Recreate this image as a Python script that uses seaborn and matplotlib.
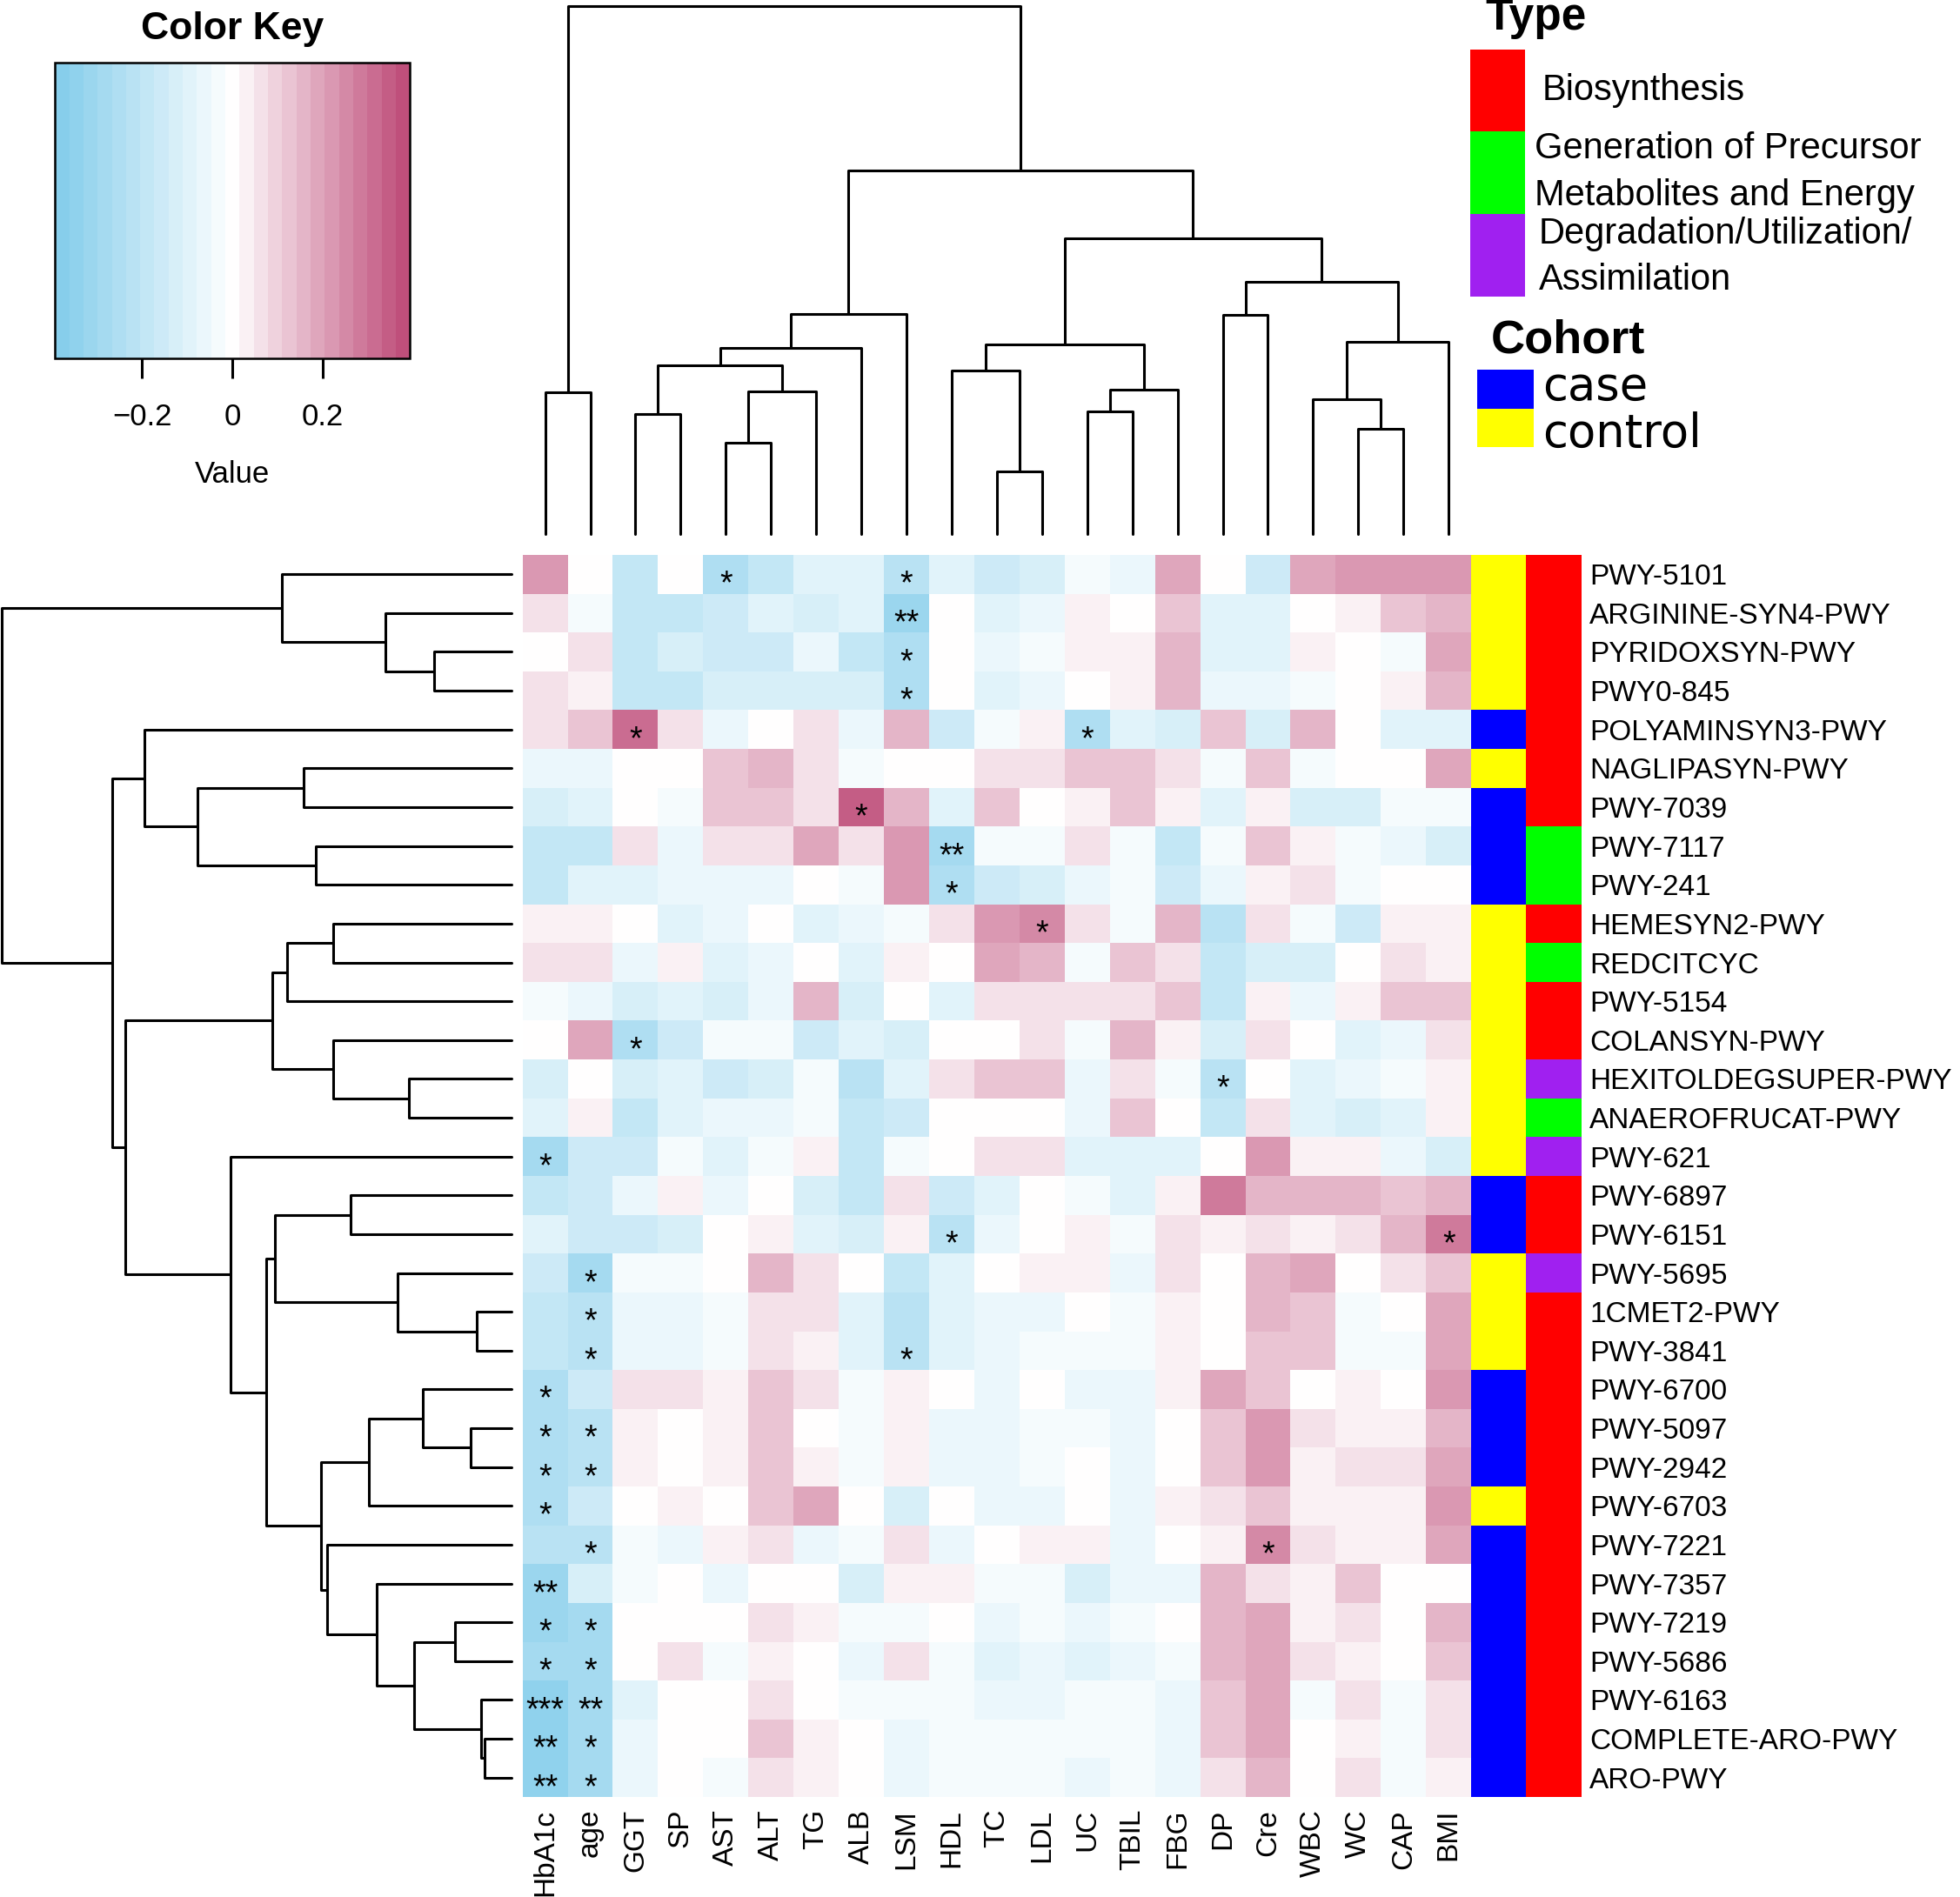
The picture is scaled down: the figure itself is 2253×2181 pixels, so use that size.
import numpy as np
import pandas as pd
import matplotlib
matplotlib.use("Agg")
import matplotlib.pyplot as plt
from matplotlib.colors import ListedColormap, LinearSegmentedColormap
from matplotlib.patches import Rectangle
import seaborn as sns

sns.set_style("white")
plt.rcParams['font.family'] = ['Liberation Sans', 'DejaVu Sans']
plt.rcParams['text.color'] = 'black'
plt.rcParams['axes.labelcolor'] = 'black'
plt.rcParams['xtick.color'] = 'black'
plt.rcParams['ytick.color'] = 'black'

# ---------------- data ----------------
row_names = ["PWY-5101", "ARGININE-SYN4-PWY", "PYRIDOXSYN-PWY", "PWY0-845",
             "POLYAMINSYN3-PWY", "NAGLIPASYN-PWY", "PWY-7039", "PWY-7117", "PWY-241",
             "HEMESYN2-PWY", "REDCITCYC", "PWY-5154", "COLANSYN-PWY",
             "HEXITOLDEGSUPER-PWY", "ANAEROFRUCAT-PWY", "PWY-621", "PWY-6897",
             "PWY-6151", "PWY-5695", "1CMET2-PWY", "PWY-3841", "PWY-6700", "PWY-5097",
             "PWY-2942", "PWY-6703", "PWY-7221", "PWY-7357", "PWY-7219", "PWY-5686",
             "PWY-6163", "COMPLETE-ARO-PWY", "ARO-PWY"]

col_names = ["HbA1c", "age", "GGT", "SP", "AST", "ALT", "TG", "ALB", "LSM", "HDL", "TC",
             "LDL", "UC", "TBIL", "FBG", "DP", "Cre", "WBC", "WC", "CAP", "BMI"]

# correlation values, one list per pathway (columns in col_names order)
corr = [
    [0.21, 0, -0.18, 0, -0.255, -0.18, -0.1, -0.09, -0.225, -0.1, -0.155, -0.13, -0.03, -0.065, 0.185, 0, -0.155, 0.185, 0.22, 0.22, 0.22],
    [0.075, -0.03, -0.18, -0.18, -0.155, -0.1, -0.13, -0.1, -0.3, 0, -0.1, -0.065, 0.04, 0, 0.115, -0.1, -0.1, 0, 0.04, 0.115, 0.15],
    [0, 0.075, -0.18, -0.13, -0.155, -0.155, -0.05, -0.19, -0.255, 0, -0.065, -0.03, 0.04, 0.04, 0.15, -0.1, -0.1, 0.04, 0, -0.03, 0.185],
    [0.075, 0.04, -0.18, -0.19, -0.13, -0.13, -0.13, -0.14, -0.255, 0, -0.1, -0.065, 0, 0.04, 0.15, -0.065, -0.065, -0.03, 0, 0.04, 0.15],
    [0.075, 0.115, 0.3, 0.075, -0.05, 0, 0.075, -0.05, 0.15, -0.155, -0.03, 0.04, -0.255, -0.1, -0.13, 0.115, -0.13, 0.15, 0, -0.1, -0.1],
    [-0.05, -0.05, 0, 0, 0.115, 0.15, 0.075, -0.03, 0, 0, 0.075, 0.075, 0.115, 0.115, 0.075, -0.03, 0.115, -0.03, 0, 0, 0.185],
    [-0.13, -0.1, 0, -0.03, 0.115, 0.115, 0.075, 0.34, 0.15, -0.1, 0.115, 0, 0.04, 0.115, 0.04, -0.1, 0.04, -0.13, -0.13, -0.03, -0.03],
    [-0.18, -0.18, 0.075, -0.05, 0.075, 0.075, 0.185, 0.075, 0.22, -0.28, -0.03, -0.03, 0.075, -0.03, -0.18, -0.03, 0.115, 0.04, -0.03, -0.065, -0.13],
    [-0.18, -0.1, -0.09, -0.05, -0.05, -0.05, 0, -0.03, 0.22, -0.255, -0.155, -0.13, -0.065, -0.03, -0.155, -0.05, 0.04, 0.075, -0.03, 0, 0],
    [0.04, 0.04, 0, -0.1, -0.05, 0, -0.1, -0.05, -0.03, 0.075, 0.22, 0.26, 0.075, -0.03, 0.15, -0.225, 0.075, -0.03, -0.155, 0.04, 0.04],
    [0.075, 0.075, -0.05, 0.04, -0.1, -0.05, 0, -0.09, 0.04, 0, 0.2, 0.15, -0.03, 0.115, 0.075, -0.19, -0.13, -0.13, 0, 0.075, 0.04],
    [-0.03, -0.05, -0.13, -0.1, -0.13, -0.05, 0.15, -0.13, 0, -0.1, 0.075, 0.075, 0.075, 0.075, 0.115, -0.19, 0.04, -0.065, 0.04, 0.115, 0.115],
    [0, 0.185, -0.255, -0.155, -0.03, -0.03, -0.155, -0.1, -0.13, 0, 0, 0.075, -0.03, 0.15, 0.04, -0.13, 0.075, 0, -0.1, -0.065, 0.075],
    [-0.13, 0, -0.13, -0.1, -0.155, -0.13, -0.03, -0.225, -0.1, 0.075, 0.115, 0.115, -0.065, 0.075, -0.03, -0.225, 0, -0.1, -0.065, -0.03, 0.04],
    [-0.1, 0.04, -0.18, -0.1, -0.05, -0.05, -0.03, -0.19, -0.155, 0, 0, 0, -0.065, 0.115, 0, -0.19, 0.075, -0.1, -0.13, -0.1, 0.04],
    [-0.28, -0.155, -0.155, -0.03, -0.1, -0.03, 0.04, -0.19, -0.03, 0, 0.075, 0.075, -0.1, -0.1, -0.1, 0, 0.22, 0.04, 0.04, -0.065, -0.13],
    [-0.18, -0.155, -0.05, 0.04, -0.05, 0, -0.13, -0.19, 0.075, -0.155, -0.1, 0, -0.03, -0.1, 0.04, 0.27, 0.15, 0.15, 0.15, 0.115, 0.15],
    [-0.1, -0.155, -0.155, -0.13, 0, 0.04, -0.1, -0.13, 0.04, -0.225, -0.065, 0, 0.04, -0.03, 0.075, 0.04, 0.075, 0.04, 0.075, 0.15, 0.27],
    [-0.155, -0.28, -0.03, -0.03, 0, 0.15, 0.075, 0, -0.19, -0.1, 0, 0.04, 0.04, -0.065, 0.075, 0, 0.15, 0.185, 0, 0.075, 0.115],
    [-0.18, -0.225, -0.05, -0.05, -0.03, 0.075, 0.075, -0.1, -0.225, -0.09, -0.065, -0.065, 0, -0.03, 0.04, 0, 0.15, 0.115, -0.03, 0, 0.185],
    [-0.18, -0.225, -0.05, -0.05, -0.03, 0.075, 0.04, -0.1, -0.225, -0.09, -0.065, -0.03, -0.03, -0.03, 0.04, 0, 0.115, 0.115, -0.03, -0.03, 0.185],
    [-0.255, -0.155, 0.075, 0.075, 0.04, 0.115, 0.075, -0.03, 0.04, 0, -0.065, 0, -0.065, -0.065, 0.04, 0.185, 0.115, 0, 0.04, 0, 0.22],
    [-0.255, -0.225, 0.04, 0, 0.04, 0.115, 0, -0.03, 0.04, -0.05, -0.05, -0.03, -0.03, -0.05, 0, 0.115, 0.22, 0.075, 0.04, 0.04, 0.15],
    [-0.255, -0.225, 0.04, 0, 0.04, 0.115, 0.04, -0.03, 0.04, -0.05, -0.05, -0.03, 0, -0.05, 0, 0.115, 0.22, 0.04, 0.075, 0.075, 0.185],
    [-0.255, -0.155, 0, 0.04, 0, 0.115, 0.185, 0, -0.13, 0, -0.065, -0.065, 0, -0.065, 0.04, 0.075, 0.115, 0.04, 0.04, 0.04, 0.22],
    [-0.225, -0.225, -0.03, -0.05, 0.04, 0.075, -0.05, -0.03, 0.075, -0.05, 0, 0.04, 0.04, -0.065, 0, 0.04, 0.26, 0.075, 0.04, 0.04, 0.185],
    [-0.3, -0.13, -0.03, 0, -0.05, 0, 0, -0.13, 0.04, 0.04, -0.03, -0.03, -0.13, -0.065, -0.065, 0.15, 0.075, 0.04, 0.115, 0, 0],
    [-0.3, -0.28, 0, 0, 0, 0.075, 0.04, -0.03, -0.03, 0, -0.05, -0.03, -0.065, -0.03, 0, 0.15, 0.185, 0.04, 0.075, 0, 0.15],
    [-0.28, -0.28, 0, 0.075, -0.03, 0.04, 0, -0.05, 0.075, -0.03, -0.09, -0.065, -0.1, -0.065, -0.03, 0.15, 0.185, 0.075, 0.04, 0, 0.115],
    [-0.36, -0.28, -0.1, 0, 0, 0.075, 0, -0.03, -0.03, -0.03, -0.05, -0.05, -0.03, -0.03, -0.05, 0.115, 0.185, -0.03, 0.075, -0.03, 0.075],
    [-0.34, -0.28, -0.05, 0, 0, 0.115, 0.04, 0, -0.05, -0.03, -0.03, -0.03, -0.03, -0.03, -0.05, 0.115, 0.185, 0, 0.04, -0.03, 0.075],
    [-0.34, -0.28, -0.05, 0, -0.03, 0.075, 0.04, 0, -0.05, -0.03, -0.03, -0.03, -0.065, -0.03, -0.05, 0.075, 0.15, 0, 0.075, -0.03, 0.04],
]

# significance marks (pathway, variable, stars)
stars = [
    ("PWY-5101", "AST", "*"), ("PWY-5101", "LSM", "*"),
    ("ARGININE-SYN4-PWY", "LSM", "**"),
    ("PYRIDOXSYN-PWY", "LSM", "*"),
    ("PWY0-845", "LSM", "*"),
    ("POLYAMINSYN3-PWY", "GGT", "*"), ("POLYAMINSYN3-PWY", "UC", "*"),
    ("PWY-7039", "ALB", "*"),
    ("PWY-7117", "HDL", "**"),
    ("PWY-241", "HDL", "*"),
    ("HEMESYN2-PWY", "LDL", "*"),
    ("COLANSYN-PWY", "GGT", "*"),
    ("HEXITOLDEGSUPER-PWY", "DP", "*"),
    ("PWY-621", "HbA1c", "*"),
    ("PWY-6151", "HDL", "*"), ("PWY-6151", "BMI", "*"),
    ("PWY-5695", "age", "*"),
    ("1CMET2-PWY", "age", "*"),
    ("PWY-3841", "age", "*"), ("PWY-3841", "LSM", "*"),
    ("PWY-6700", "HbA1c", "*"),
    ("PWY-5097", "HbA1c", "*"), ("PWY-5097", "age", "*"),
    ("PWY-2942", "HbA1c", "*"), ("PWY-2942", "age", "*"),
    ("PWY-6703", "HbA1c", "*"),
    ("PWY-7221", "age", "*"), ("PWY-7221", "Cre", "*"),
    ("PWY-7357", "HbA1c", "**"),
    ("PWY-7219", "HbA1c", "*"), ("PWY-7219", "age", "*"),
    ("PWY-5686", "HbA1c", "*"), ("PWY-5686", "age", "*"),
    ("PWY-6163", "HbA1c", "***"), ("PWY-6163", "age", "**"),
    ("COMPLETE-ARO-PWY", "HbA1c", "**"), ("COMPLETE-ARO-PWY", "age", "*"),
    ("ARO-PWY", "HbA1c", "**"), ("ARO-PWY", "age", "*"),
]

cohort = ["control", "control", "control", "control", "case", "control", "case", "case",
          "case", "control", "control", "control", "control", "control", "control",
          "control", "case", "case", "control", "control", "control", "case", "case",
          "case", "control", "case", "case", "case", "case", "case", "case", "case"]

pwy_type = ["Bio", "Bio", "Bio", "Bio", "Bio", "Bio", "Bio", "Gen", "Gen", "Bio", "Gen",
            "Bio", "Bio", "Deg", "Gen", "Deg", "Bio", "Bio", "Deg", "Bio", "Bio", "Bio",
            "Bio", "Bio", "Bio", "Bio", "Bio", "Bio", "Bio", "Bio", "Bio", "Bio"]

# dendrograms: (child a, child b, height); leaves are 0..n-1, merge k gets id n+k
col_merges = [(10, 11, 0.177), (4, 5, 0.257), (18, 19, 0.297), (2, 3, 0.338),
              (12, 13, 0.345), (17, 23, 0.380), (0, 1, 0.400), (22, 6, 0.402),
              (25, 14, 0.408), (9, 21, 0.462), (24, 28, 0.477), (31, 7, 0.524),
              (30, 29, 0.535), (26, 20, 0.541), (15, 16, 0.618), (32, 8, 0.621),
              (35, 34, 0.710), (33, 37, 0.834), (36, 38, 1.024), (27, 39, 1.487)]

row_merges = [(30, 31, 0.077), (29, 32, 0.089), (19, 20, 0.101), (22, 23, 0.117),
              (27, 28, 0.164), (2, 3, 0.225), (21, 35, 0.258), (36, 33, 0.282),
              (13, 14, 0.299), (18, 34, 0.330), (1, 37, 0.365), (26, 39, 0.392),
              (38, 24, 0.415), (16, 17, 0.467), (9, 10, 0.517), (12, 40, 0.519),
              (25, 43, 0.535), (44, 48, 0.554), (7, 8, 0.568), (5, 6, 0.604),
              (46, 11, 0.651), (0, 42, 0.667), (45, 41, 0.687), (52, 47, 0.695),
              (54, 49, 0.712), (15, 56, 0.817), (51, 50, 0.912), (4, 58, 1.067),
              (55, 57, 1.122), (59, 60, 1.161), (53, 61, 1.482)]

cohort_colors = {"case": "#0000FF", "control": "#FFFF00"}
type_colors = {"Bio": "#FF0000", "Gen": "#00FF00", "Deg": "#A020F0"}

# ---------------- figure ----------------
W, H = 1568.0, 1518.0   # layout grid in reference units


def box(x0, y0, x1, y1):
    return [x0 / W, 1 - y1 / H, (x1 - x0) / W, (y1 - y0) / H]


def draw_dendrogram(ax, merges, n, side):
    pos = {i: (i + 0.5, 0.0) for i in range(n)}
    for k, (a, b, h) in enumerate(merges):
        (pa, ha), (pb, hb) = pos[a], pos[b]
        leaf = [pa, pa, pb, pb]
        hgt = [ha, h, h, hb]
        if side == "top":
            ax.plot(leaf, hgt, color="black", lw=2.2, clip_on=False)
        else:
            ax.plot(hgt, leaf, color="black", lw=2.2, clip_on=False)
        pos[n + k] = ((pa + pb) / 2, h)
    return merges[-1][2]


fig = plt.figure(figsize=(22.53, 21.81), dpi=100)

# heatmap
df = pd.DataFrame(corr, index=row_names, columns=col_names)
base = LinearSegmentedColormap.from_list("key", ["#87CEEB", "#FFFFFF", "#BF4F7B"])
cmap = ListedColormap(base(np.linspace(0, 1, 25)))
vlim = 0.393

ax_hm = fig.add_axes(box(418, 444, 1177, 1438))
sns.heatmap(df, ax=ax_hm, cmap=cmap, vmin=-vlim, vmax=vlim, cbar=False,
            xticklabels=True, yticklabels=False)
ax_hm.set_xticklabels(col_names, rotation=90, fontsize=24, va="top", ha="center")
ax_hm.tick_params(axis="x", length=0, pad=10)
ax_hm.set_xlabel("")
ax_hm.set_ylabel("")
for r, c, s in stars:
    ax_hm.text(col_names.index(c) + 0.5, row_names.index(r) + 1.0, s,
               ha="center", va="baseline", fontsize=27)

# side colour bars: Cohort and Type
codes = pd.DataFrame({"Cohort": [list(cohort_colors).index(c) for c in cohort],
                      "Type": [2 + list(type_colors).index(t) for t in pwy_type]},
                     index=row_names)
ann_cmap = ListedColormap(list(cohort_colors.values()) + list(type_colors.values()))
ax_ann = fig.add_axes(box(1177, 444, 1265, 1438))
sns.heatmap(codes, ax=ax_ann, cmap=ann_cmap, vmin=-0.5, vmax=4.5, cbar=False,
            xticklabels=False, yticklabels=True)
ax_ann.yaxis.tick_right()
ax_ann.set_yticklabels(row_names, rotation=0, fontsize=24, ha="left")
ax_ann.tick_params(axis="y", length=0, pad=7)
ax_ann.set_ylabel("")

# column dendrogram
ax_top = fig.add_axes(box(418, 5, 1177, 427.6))
top_h = draw_dendrogram(ax_top, col_merges, len(col_names), "top")
ax_top.set_xlim(0, len(col_names))
ax_top.set_ylim(0, top_h)
ax_top.axis("off")

# row dendrogram
ax_left = fig.add_axes(box(1.4, 444, 409, 1438))
left_h = draw_dendrogram(ax_left, row_merges, len(row_names), "left")
ax_left.set_ylim(len(row_names), 0)
ax_left.set_xlim(left_h, 0)
ax_left.axis("off")

# colour key
ax_key = fig.add_axes(box(44, 50, 328, 287))
cb = fig.colorbar(ax_hm.collections[0], cax=ax_key, orientation="horizontal")
cb.set_ticks([-0.2, 0, 0.2])
cb.set_ticklabels(["\u22120.2", "0", "0.2"])
cb.outline.set_linewidth(1.8)
cb.outline.set_edgecolor("black")
ax_key.tick_params(axis="x", length=16.5, width=2.2, labelsize=25, pad=20)

# overlay for titles and legends
lax = fig.add_axes([0, 0, 1, 1])
lax.set_xlim(0, W)
lax.set_ylim(H, 0)
lax.axis("off")

lax.text(186, 31, "Color Key", ha="center", va="baseline", fontsize=32, fontweight="bold")
lax.text(186, 386, "Value", ha="center", va="baseline", fontsize=25)

lax.text(1188, 23.5, "Type", ha="left", va="baseline", fontsize=37, fontweight="bold")
for (y0, y1), key in zip([(40, 105), (105, 171), (171, 237)], type_colors):
    lax.add_patch(Rectangle((1176, y0), 44, y1 - y0, facecolor=type_colors[key],
                            edgecolor="none"))
type_lines = [(1234, 80, "Biosynthesis"),
              (1228, 127, "Generation of Precursor"),
              (1228, 164, "Metabolites and Energy"),
              (1231, 195, "Degradation/Utilization/"),
              (1231, 232, "Assimilation")]
for x, y, s in type_lines:
    lax.text(x, y, s, ha="left", va="baseline", fontsize=30)

lax.text(1193, 282, "Cohort", ha="left", va="baseline", fontsize=39, fontweight="bold")
for (y0, y1), ybase, key in zip([(296, 327), (327, 358)], [320, 358], cohort_colors):
    lax.add_patch(Rectangle((1182, y0), 45, y1 - y0, facecolor=cohort_colors[key],
                            edgecolor="none"))
    lax.text(1234, ybase, key, ha="left", va="baseline", fontsize=38,
             family=["DejaVu Sans"])

fig.savefig("out.png", dpi=100)
